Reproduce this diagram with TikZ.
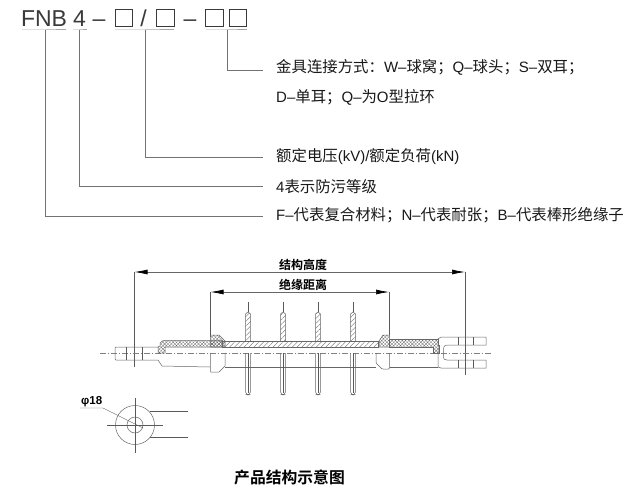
\documentclass[tikz,border=0pt]{standalone}
\usepackage{fontspec}
\setmainfont{Liberation Sans}
\newfontfamily\cjk{Noto Sans CJK SC}
\newfontfamily\cjkb{Noto Sans CJK SC Bold}
\newcommand{\zh}[1]{{\cjk\fontsize{15.4}{15.4}\selectfont #1}}
\newcommand{\qcol}{\char"FF1A\relax}
\newcommand{\qsem}{\char"FF1B\relax}
\usetikzlibrary{arrows.meta, patterns.meta}
\definecolor{ink}{HTML}{3A3A3A}
\tikzset{
  x=1pt, y=-1pt,
  code/.style={inner sep=0pt, text=ink, font=\fontsize{23}{23}\selectfont},
  slot/.style={draw=ink, line width=1pt, minimum width=17.5pt, minimum height=17pt, inner sep=0pt},
  under/.style={draw=black!35, line width=1pt},
  lead/.style={draw=black!55, line width=0.7pt},
  desc/.style={anchor=west, inner sep=0pt, text=black!90, font=\fontsize{15}{15}\selectfont},
  dimtext/.style={inner sep=0pt, font=\cjkb\fontsize{12}{12}\selectfont},
  part/.style={draw=black!60, line width=0.5pt},
  thin/.style={draw=black!65, line width=0.4pt},
  dimline/.style={draw=black!60, line width=0.7pt, {Latex[length=13pt,width=5pt,black]}-{Latex[length=13pt,width=5pt,black]}},
  hatch/.style={part, pattern={Lines[angle=45,distance=3.4pt,line width=0.35pt]}, pattern color=black!60},
  cross/.style={part, pattern={Hatch[angle=45,distance=2.4pt,line width=0.25pt]}, pattern color=black!60},
}
\begin{document}
\begin{tikzpicture}
  \useasboundingbox[fill=white] (0,0) rectangle (628,495);

  % type code
  \node[code] (fnb) at (44,18.5) {FNB};
  \node[code] (four) at (79.5,18.5) {4};
  \node[code] (dasha) at (99,23.5) {–};
  \node[slot] (boxa) at (124,18.5) {};
  \node[code] (slash) at (143.5,18.5) {/};
  \node[slot] (boxb) at (165.5,18.5) {};
  \node[code] (dashb) at (190,23.5) {–};
  \node[slot] (boxc) at (214.5,18.5) {};
  \node[slot] (boxd) at (238,18.5) {};

  \coordinate (ufnb) at (45.5,30);
  \coordinate (ufour) at (79.5,30);
  \coordinate (uab) at (145,30);
  \coordinate (ucd) at (227,30);
  \draw[under] (22,30) -- (ufnb) -- (66,30);
  \draw[under] (73,30) -- (ufour) -- (87,30);
  \draw[under] (115,30) -- (uab) -- (174,30);
  \draw[under] (206,30) -- (ucd) -- (247,30);

  % descriptions
  \node[desc] (dfit) at (276,67) {\zh{金具连接方式\qcol}W–\zh{球窝\qsem}Q–\zh{球头\qsem}S–\zh{双耳\qsem}};
  \node[desc] (dfitb) at (276,97) {D–\zh{单耳\qsem}Q–\zh{为}O\zh{型拉环}};
  \node[desc] (dvolt) at (276,157) {\zh{额定电压}(kV)/\zh{额定负荷}(kN)};
  \node[desc] (dfour) at (276,186.5) {4\zh{表示防污等级}};
  \node[desc] (dfnb) at (276,215.5) {F–\zh{代表复合材料\qsem}N–\zh{代表耐张\qsem}B–\zh{代表棒形绝缘子}};

  \coordinate (efit) at (263,70);
  \coordinate (evolt) at (263,157);
  \coordinate (efour) at (263,186);
  \coordinate (efnb) at (263,216);
  \draw[lead] (ucd) |- (efit);
  \draw[lead] (uab) |- (evolt);
  \draw[lead] (ufour) |- (efour);
  \draw[lead] (ufnb) |- (efnb);

  % dimensions
  \coordinate (hl) at (134.5,272);
  \coordinate (hr) at (465,272);
  \coordinate (il) at (210.5,292);
  \coordinate (ir) at (389,292);
  \draw[thin] (hl) -- (134.5,367);
  \draw[thin] (hr) -- (465,375);
  \draw[thin] (il) -- (210.5,337);
  \draw[thin] (ir) -- (389,335);
  \draw[dimline] (hl) -- (hr);
  \draw[dimline] (il) -- (ir);
  \node[dimtext] (thight) at (303,265) {结构高度};
  \node[dimtext] (tdist) at (303,285) {绝缘距离};

  % axis
  \draw[black!50, line width=0.4pt, dash pattern=on 6pt off 2pt on 1pt off 2pt] (100,353.5) -- (492,353.5);

  % left fitting
  \draw[part, rounded corners=1pt] (158,347) -- (115,347) -- (115,360) -- (158,360);
  \draw[thin] (126,347) -- (126,360) (142,347) -- (142,360);
  \draw[part] (158,360) -- (162,366) -- (210,367);
  \draw[cross] (160,346) -- (160,343) -- (163,340.5) -- (222,340.5) -- (222,347) -- (165,347) -- (165,353) -- (158,353) -- (158,347) -- cycle;

  % rod
  \fill[hatch] (222,341) rectangle (378,347);
  \draw[part] (222,341) -- (378,341);
  \draw[part, line width=0.8pt] (222,347) -- (378,347);
  \draw[part] (225,367) -- (376,367);

  % left and right collars
  \draw[part] (210.5,353) -- (210.5,372) -- (219,372) -- (225,366) -- (225,353);
  \draw[cross] (210.5,340) -- (210.5,335) -- (219,335) -- (225,341) -- (225,347) -- (210.5,347) -- cycle;
  \draw[part, rounded corners=1pt] (376,353) -- (376,363) -- (382,369) -- (389.5,369) -- (389.5,353);
  \draw[cross] (379,341) -- (383,335) -- (389.5,335) -- (389.5,340) -- (390,347) -- (379,347) -- cycle;

  % right sleeve
  \draw[cross] (389.5,339) -- (438,339) -- (438,345) -- (439,345) -- (439,353) -- (433,353) -- (433,347) -- (389.5,347) -- cycle;
  \draw[part] (389.5,367) -- (438,367);

  % sheds
  \foreach \sx in {248,283,318,353} {
    \draw[hatch] (\sx-2.5,341) -- (\sx-2.5,314) -- (\sx,312) -- (\sx+2.5,314) -- (\sx+2.5,341);
    \draw[part, rounded corners=2pt] (\sx-2.5,353) -- (\sx-2.5,394) -- (\sx,395) -- (\sx+2.5,394) -- (\sx+2.5,353);
    \draw[thin] (\sx,302) -- (\sx,312) (\sx,353) -- (\sx,393);
  }

  % clevis
  \draw[part] (438,339) -- (441,337) -- (486,337) -- (486,345) -- (447,345)
    .. controls (444,345) and (443.5,347) .. (443.5,349) -- (443.5,357)
    .. controls (443.5,359) and (444,360) .. (447,360) -- (486,360) -- (486,368) -- (441,368) -- (438,367) -- cycle;
  \draw[thin] (458,337) -- (458,345) (473,337) -- (473,345) (458,360) -- (458,368) (473,360) -- (473,368);

  % end view
  \coordinate (endc) at (135,425);
  \draw[part] (endc) circle (19.5);
  \draw[part] (endc) circle (8);
  \draw[thin] (107,425) -- (163,425) (135,398) -- (135,453);
  \draw[thin] (150,411) -- (188,411) (150,437) -- (188,437);
  \node[anchor=south west, inner sep=0pt, font=\bfseries\fontsize{11.5}{11.5}\selectfont] (tphi) at (81,407) {φ18};
  \coordinate (lphi) at (80,408);
  \draw[thin] (lphi) -- (103,408) -- (143,428);

  % caption
  \node[inner sep=0pt, font=\cjkb\fontsize{15.8}{15.8}\selectfont] (capt) at (289.5,477) {产品结构示意图};
\end{tikzpicture}
\end{document}
